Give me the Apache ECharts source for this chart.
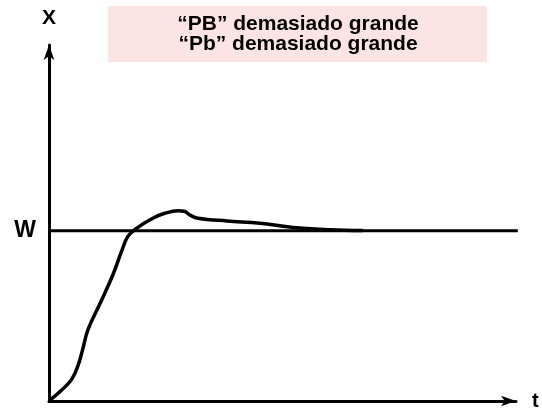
<!DOCTYPE html>
<html>
<head>
<meta charset="utf-8">
<script src="https://cdn.jsdelivr.net/npm/echarts@6/dist/echarts.min.js"></script>
<style>
  html, body { margin: 0; padding: 0; background: #fff; }
  #chart { width: 542px; height: 411px; }
</style>
</head>
<body>
<div id="chart"></div>
<script>
// respuesta del sistema: "PB" y "Pb" demasiado grandes
const curveT = [0, 0.30, 0.50, 0.64, 0.73, 0.85, 1.11, 1.39, 1.59, 1.72, 1.91, 2.26, 2.52, 2.81, 2.94, 3.07, 3.24, 3.87, 4.59, 5.31, 6.12, 6.83]
const curveX = [0, 0.070, 0.130, 0.215, 0.300, 0.420, 0.572, 0.741, 0.887, 0.968, 1.015, 1.073, 1.102, 1.117, 1.114, 1.091, 1.073, 1.057, 1.044, 1.019, 1.006, 1.001]

const W_LEVEL = 1
const wSpan = [0, 10.2]

const boxLines = ['\u201cPB\u201d demasiado grande', '\u201cPb\u201d demasiado grande']

const FONT = '"Liberation Sans", Arial, sans-serif'

const chart = echarts.init(document.getElementById('chart'))

chart.setOption({
  backgroundColor: '#ffffff',
  animation: false,

  grid: {
    left: 49,
    right: 26,
    top: 45,
    bottom: 7
  },

  xAxis: {
    type: 'value',
    min: 0,
    max: 10.16,
    name: 't',
    nameLocation: 'end',
    nameGap: 16,
    nameTextStyle: { color: '#000', fontFamily: FONT, fontWeight: 'bold', fontSize: 20, padding: [3, 0, 0, 0] },
    axisLine: {
      show: true,
      symbol: ['none', 'arrow'],
      symbolSize: [8, 15],
      lineStyle: { color: '#000', width: 3 }
    },
    axisTick: { show: false },
    axisLabel: { show: false },
    splitLine: { show: false }
  },

  yAxis: {
    type: 'value',
    min: 0,
    max: 2.09,
    name: 'X',
    nameLocation: 'end',
    nameGap: 16,
    nameTextStyle: { color: '#000', fontFamily: FONT, fontWeight: 'bold', fontSize: 21, align: 'center' },
    axisLine: {
      show: true,
      symbol: ['none', 'arrow'],
      symbolSize: [8, 15],
      lineStyle: { color: '#000', width: 3 }
    },
    axisTick: { show: false },
    axisLabel: {
      show: true,
      customValues: [W_LEVEL],
      formatter: () => 'W',
      margin: 13,
      color: '#000',
      fontFamily: FONT,
      fontWeight: 'bold',
      fontSize: 23
    },
    splitLine: { show: false }
  },

  graphic: [
    {
      type: 'rect',
      shape: { x: 108, y: 6, width: 379, height: 56 },
      style: { fill: '#fde4e4' },
      z: 1
    },
    {
      type: 'text',
      x: 298,
      y: 34,
      z: 2,
      style: {
        text: boxLines.join('\n'),
        fill: '#000',
        font: 'bold 21px ' + FONT,
        lineHeight: 20,
        align: 'center',
        verticalAlign: 'middle'
      }
    }
  ],

  series: [
    {
      name: 'W',
      type: 'line',
      clip: false,
      showSymbol: false,
      lineStyle: { color: '#000', width: 3 },
      data: wSpan.map(t => [t, W_LEVEL])
    },
    {
      name: 'X',
      type: 'line',
      showSymbol: false,
      smooth: 0.4,
      lineStyle: { color: '#000', width: 3.5 },
      data: curveT.map((t, i) => [t, curveX[i]])
    }
  ]
})
</script>
</body>
</html>
